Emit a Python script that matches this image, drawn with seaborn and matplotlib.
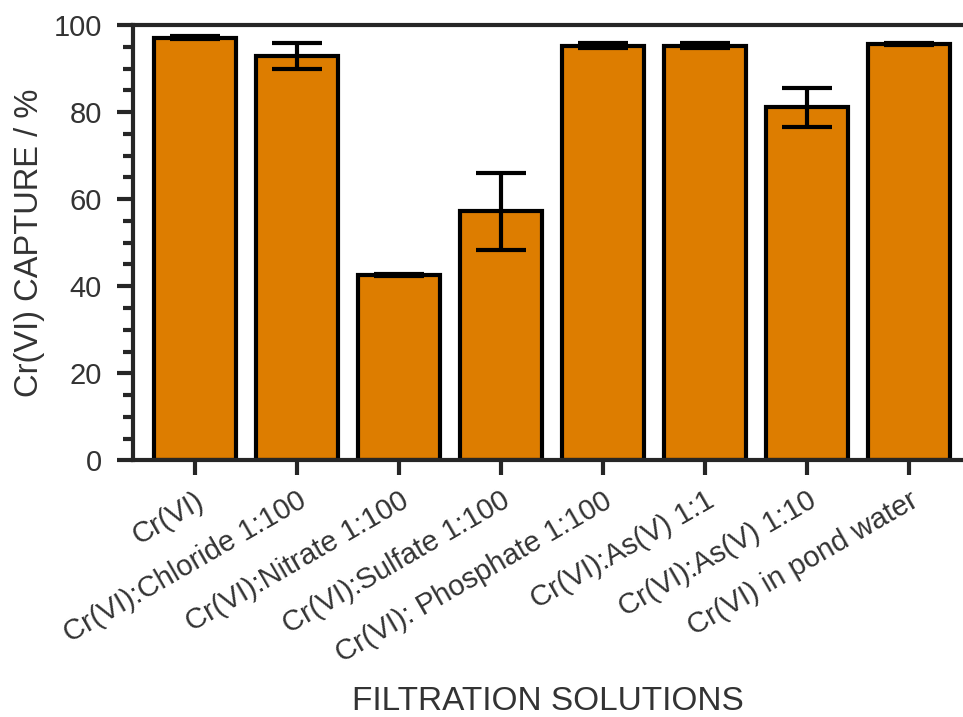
import matplotlib
matplotlib.use("Agg")
import matplotlib.pyplot as plt
import seaborn as sns
import numpy as np
from matplotlib.ticker import MultipleLocator

categories = ["Cr(VI)", "Cr(VI):Chloride 1:100", "Cr(VI):Nitrate 1:100",
              "Cr(VI):Sulfate 1:100", "Cr(VI): Phosphate 1:100",
              "Cr(VI):As(V) 1:1", "Cr(VI):As(V) 1:10", "Cr(VI) in pond water"]
capture = [97.1, 93.0, 42.6, 57.2, 95.3, 95.3, 81.1, 95.7]
errors = [0.3, 3.0, 0.3, 8.8, 0.5, 0.5, 4.4, 0.2]

sns.set_style("ticks")
plt.rcParams['font.family'] = ['Liberation Sans', 'DejaVu Sans']
textc = "#333333"
plt.rcParams['text.color'] = textc
plt.rcParams['axes.labelcolor'] = textc
plt.rcParams['xtick.color'] = textc
plt.rcParams['ytick.color'] = textc

fig = plt.figure(figsize=(9.63, 7.17), dpi=100)
ax = fig.add_axes([0.138, 0.358, 0.862, 0.607])

sns.barplot(x=categories, y=capture, color="#DD7D00", saturation=1,
            edgecolor="black", linewidth=3, width=0.81, errorbar=None, ax=ax)
ax.errorbar(x=np.arange(len(categories)), y=capture, yerr=errors, fmt="none",
            ecolor="black", elinewidth=3, capsize=18, capthick=3, zorder=5)

ax.set_ylim(0, 100)
ax.set_xlim(-0.61, 7.53)
ax.yaxis.set_major_locator(MultipleLocator(20))
ax.yaxis.set_minor_locator(MultipleLocator(5))

for side in ["left", "bottom", "top"]:
    ax.spines[side].set_linewidth(3)
    ax.spines[side].set_color("#262626")
ax.spines["right"].set_visible(False)

ax.tick_params(axis="y", which="major", length=11.5, width=3, labelsize=21,
               pad=11, color="#262626")
ax.tick_params(axis="y", which="minor", length=7, width=3, color="#262626")
ax.tick_params(axis="x", which="major", length=11, width=3, labelsize=21,
               pad=8, color="#262626")

plt.setp(ax.get_xticklabels(), rotation=30, ha="right", rotation_mode="anchor")

ax.set_ylabel("Cr(VI) CAPTURE / %", fontsize=23.5, labelpad=6)
ax.set_xlabel("FILTRATION SOLUTIONS", fontsize=24, labelpad=13)

fig.savefig("out.png", dpi=100)
